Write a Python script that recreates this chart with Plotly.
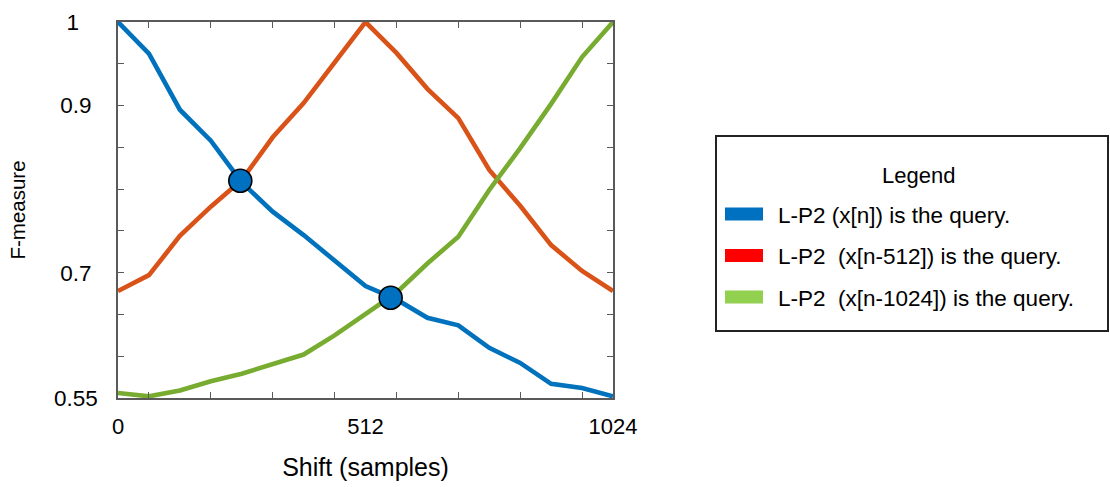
import plotly.graph_objects as go

# Shift in samples (every 64 samples)
shift = [0, 64, 128, 192, 256, 320, 384, 448, 512, 576, 640, 704, 768, 832, 896, 960, 1024]

# F-measure for each query
f_query_n = [1.000, 0.962, 0.895, 0.858, 0.808, 0.773, 0.745, 0.714, 0.684,
             0.668, 0.646, 0.637, 0.610, 0.592, 0.567, 0.562, 0.552]
f_query_n512 = [0.678, 0.697, 0.744, 0.779, 0.811, 0.862, 0.903, 0.952, 1.000,
                0.963, 0.920, 0.885, 0.823, 0.780, 0.733, 0.702, 0.678]
f_query_n1024 = [0.556, 0.552, 0.559, 0.570, 0.579, 0.590, 0.602, 0.625, 0.650,
                 0.676, 0.711, 0.743, 0.799, 0.849, 0.902, 0.958, 1.000]

# Crossing points highlighted on the curves
cross_shift = [253, 564]
cross_f = [0.810, 0.670]

x_ticks = [0, 512, 1024]
x_tick_text = ["0", "512", "1024"]
x_minor = [64, 192, 320, 448, 576, 704, 832, 960]
y_ticks = [0.55, 0.6, 0.65, 0.7, 0.75, 0.8, 0.85, 0.9, 0.95, 1.0]
y_tick_text = ["0.55", "", "", "0.7\u00a0", "", "", "", "0.9\u00a0", "", "1\u00a0\u00a0\u00a0"]

legend_labels = ["L-P2 (x[n]) is the query.",
                 "L-P2 \u00a0(x[n-512]) is the query.",
                 "L-P2 \u00a0(x[n-1024]) is the query."]
legend_colors = ["#0070C0", "#FF0000", "#92D050"]

W, H = 1110, 487
L, R, T, B = 118, 613, 22, 398
FONT = "Liberation Sans, Arial, sans-serif"


def px(x):
    return (x - L) / (R - L)


def py(y):
    return (B - y) / (B - T)


fig = go.Figure()
line_colors = ["#0072BD", "#D95319", "#77AC30"]
for ys, c, name in zip([f_query_n, f_query_n512, f_query_n1024], line_colors, legend_labels):
    fig.add_trace(go.Scatter(x=shift, y=ys, mode="lines", name=name,
                             line=dict(color=c, width=4.6), showlegend=False))

fig.add_trace(go.Scatter(x=cross_shift, y=cross_f, mode="markers", showlegend=False,
                         cliponaxis=False,
                         marker=dict(size=23, color="#0070C0",
                                     line=dict(color="black", width=1.6))))

axis_color = "#5a5a5a"
fig.update_xaxes(range=[0, 1024], showline=True, linecolor=axis_color, linewidth=1.5,
                 mirror="ticks", showgrid=False, zeroline=False,
                 tickmode="array", tickvals=x_ticks, ticktext=x_tick_text, ticks="",
                 ticklabelstandoff=8,
                 tickfont=dict(family=FONT, size=22, color="black"),
                 minor=dict(tickmode="array", tickvals=x_minor, ticks="inside",
                            ticklen=6, tickcolor=axis_color, tickwidth=1.3, showgrid=False),
                 title=dict(text="\u00a0\u00a0Shift (samples)", standoff=20,
                            font=dict(family=FONT, size=25, color="black")),
                 automargin=False)
fig.update_yaxes(range=[0.55, 1.0], showline=True, linecolor=axis_color, linewidth=1.5,
                 mirror="ticks", showgrid=False, zeroline=False,
                 tickmode="array", tickvals=y_ticks, ticktext=y_tick_text, ticks="inside",
                 ticklen=6, tickcolor=axis_color, tickwidth=1.3,
                 ticklabelstandoff=14,
                 tickfont=dict(family=FONT, size=22.5, color="black"),
                 title=dict(text="F-measure", standoff=23,
                            font=dict(family=FONT, size=20.5, color="black")),
                 automargin=False)

shapes = [dict(type="rect", xref="paper", yref="paper",
               x0=px(716), x1=px(1108), y0=py(331), y1=py(136),
               line=dict(color="#222222", width=2), fillcolor="white")]
annotations = [dict(xref="paper", yref="paper", x=px(918), y=py(175), text="Legend",
                    showarrow=False, xanchor="center", yanchor="middle",
                    font=dict(family=FONT, size=22, color="black"))]
for i, (lab, col) in enumerate(zip(legend_labels, legend_colors)):
    cy = 214 + i * 41.5
    shapes.append(dict(type="rect", xref="paper", yref="paper",
                       x0=px(725), x1=px(763), y0=py(cy + 6.5), y1=py(cy - 6.5),
                       line=dict(width=0), fillcolor=col))
    annotations.append(dict(xref="paper", yref="paper", x=px(776), y=py(cy + 1),
                            text=lab, showarrow=False, xanchor="left", yanchor="middle",
                            font=dict(family=FONT, size=22.5, color="black")))

fig.update_layout(width=W, height=H, margin=dict(l=L, r=W - R, t=T, b=H - B),
                  plot_bgcolor="white", paper_bgcolor="white",
                  shapes=shapes, annotations=annotations, showlegend=False)

fig.write_html("out.html")
